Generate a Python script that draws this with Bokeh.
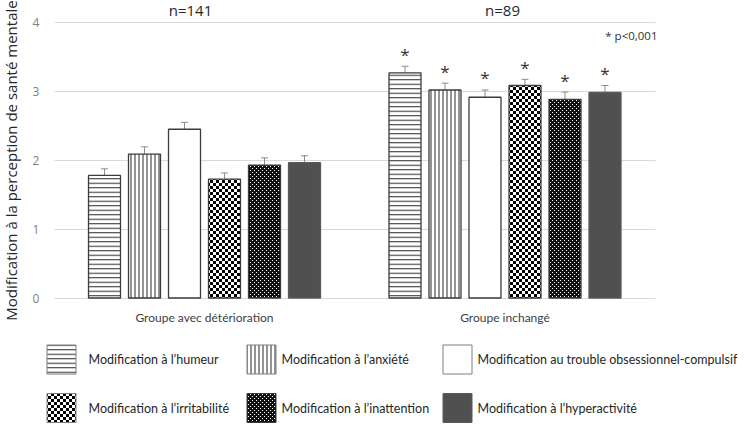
import numpy as np
from bokeh.plotting import figure
from bokeh.models import (Range1d, ColumnDataSource, Whisker, TeeHead, FixedTicker, Grid,
                          CanvasTexture)
from bokeh.core.properties import value
from bokeh.embed import file_html
from bokeh.resources import INLINE

# ---------------- data ----------------
groups = ["Groupe avec détérioration", "Groupe inchangé"]
sample_sizes = ["n=141", "n=89"]
series = [
    "Modification à l\u2019humeur",
    "Modification à l\u2019anxiété",
    "Modification au trouble obsessionnel-compulsif",
    "Modification à l\u2019irritabilité",
    "Modification à l\u2019inattention",
    "Modification à l\u2019hyperactivité",
]
humeur = [1.78, 3.27]
anxiete = [2.09, 3.02]
toc = [2.45, 2.915]
irritabilite = [1.725, 3.085]
inattention = [1.93, 2.885]
hyperactivite = [1.965, 2.985]

humeur_err = [0.095, 0.095]
anxiete_err = [0.105, 0.10]
toc_err = [0.10, 0.105]
irritabilite_err = [0.09, 0.09]
inattention_err = [0.105, 0.105]
hyperactivite_err = [0.10, 0.10]

significant = [False, True]
significance_note = "* p<0,001"
y_ticks = [0, 1, 2, 3, 4]

means = [humeur, anxiete, toc, irritabilite, inattention, hyperactivite]
errors = [humeur_err, anxiete_err, toc_err, irritabilite_err, inattention_err, hyperactivite_err]

# ---------------- styles ----------------
checker_code = """
const c = ctx.canvas;
c.width = 6; c.height = 6;
ctx.setTransform(1, 0, 0, 1, 0, 0);
ctx.fillStyle = "#ffffff";
ctx.fillRect(0, 0, 6, 6);
ctx.fillStyle = "#000000";
ctx.fillRect(0, 0, 3, 3);
ctx.fillRect(3, 3, 3, 3);
"""
grain_code = """
const c = ctx.canvas;
c.width = 4; c.height = 4;
ctx.setTransform(1, 0, 0, 1, 0, 0);
ctx.fillStyle = "#111111";
ctx.fillRect(0, 0, 4, 4);
ctx.fillStyle = "#ffffff";
ctx.fillRect(0, 0, 1, 1);
ctx.fillRect(2, 2, 1, 1);
"""
textures = {"checker": CanvasTexture(code=checker_code),
            "grain": CanvasTexture(code=grain_code)}

OUT = "#3c3c3c"
styles = [
    dict(base="white", pattern="horizontal_line", hatch_color="#3a3a3a", hatch_scale=4.5,
         hatch_weight=1.1, line_color=OUT, texture=None, tex_scale=None),
    dict(base="white", pattern="vertical_line", hatch_color="#3a3a3a", hatch_scale=4.0,
         hatch_weight=1.1, line_color=OUT, texture=None, tex_scale=None),
    dict(base="white", pattern=None, hatch_color="#3a3a3a", hatch_scale=4.0,
         hatch_weight=1.0, line_color=OUT, texture=None, tex_scale=None),
    dict(base="white", pattern="dot", hatch_color="#000000", hatch_scale=4.0,
         hatch_weight=1.0, line_color=OUT, texture="checker", tex_scale=6),
    dict(base="#111111", pattern="dot", hatch_color="#ffffff", hatch_scale=3.5,
         hatch_weight=0.15, line_color=OUT, texture="grain", tex_scale=4),
    dict(base="#505050", pattern=None, hatch_color="#505050", hatch_scale=4.0,
         hatch_weight=1.0, line_color="#5a5a5a", texture=None, tex_scale=None),
]

# ---------------- layout constants ----------------
W, H = 745, 425
px_per_x = 300.5
px_per_y = 68.875
x_range = Range1d(1 - 204 / px_per_x, 2 + (W - 504.5) / px_per_x)
y_range = Range1d(-(H - 297.5) / px_per_y, 4 + 22 / px_per_y)

def dx(px):
    return 1 + (px - 204) / px_per_x

def dy(py):
    return (297.5 - py) / px_per_y

bar_width = 32 / px_per_x
bar_step = 40 / px_per_x
star_gap = 0.175

p = figure(width=W, height=H, x_range=x_range, y_range=y_range,
           output_backend="svg", toolbar_location=None, min_border=0,
           outline_line_color=None, background_fill_color="white",
           border_fill_color="white")

# axes
p.yaxis.fixed_location = 0.5
p.yaxis.ticker = FixedTicker(ticks=y_ticks)
p.yaxis.bounds = (0, 4)
p.yaxis.axis_line_color = None
p.yaxis.major_tick_line_color = None
p.yaxis.minor_tick_line_color = None
p.yaxis.major_tick_out = 0
p.yaxis.major_tick_in = 0
p.yaxis.minor_tick_out = 0
p.yaxis.major_label_standoff = 15
p.yaxis.major_label_text_font = "Open Sans"
p.yaxis.major_label_text_font_size = "12px"
p.yaxis.major_label_text_color = "#7f7f7f"
p.yaxis.axis_label = "Modification à la perception de santé mentale"
p.yaxis.axis_label_text_font = "Open Sans"
p.yaxis.axis_label_text_font_size = "15px"
p.yaxis.axis_label_text_font_style = "normal"
p.yaxis.axis_label_text_color = "#262626"
p.yaxis.axis_label_standoff = 9

centers = np.arange(1, len(groups) + 1)
p.xaxis.fixed_location = 0
p.xaxis.ticker = FixedTicker(ticks=list(centers))
p.xaxis.major_label_overrides = {int(c): g for c, g in zip(centers, groups)}
p.xaxis.axis_line_color = None
p.xaxis.major_tick_line_color = None
p.xaxis.minor_tick_line_color = None
p.xaxis.major_tick_out = 0
p.xaxis.major_tick_in = 0
p.xaxis.minor_tick_out = 0
p.xaxis.major_label_standoff = 12
p.xaxis.major_label_text_font = "Lato"
p.xaxis.major_label_text_font_size = "12px"
p.xaxis.major_label_text_color = "#404040"

# grid
p.xgrid.visible = False
p.ygrid.ticker = FixedTicker(ticks=y_ticks)
p.ygrid.grid_line_color = "#d9d9d9"
p.ygrid.grid_line_width = 1
if "cross_bounds" in Grid.properties():
    p.ygrid.cross_bounds = (0.5, 2.5)
else:
    p.ygrid.visible = False
    p.segment(x0=0.5, x1=2.5, y0=y_ticks, y1=y_ticks, line_color="#d9d9d9", level="underlay")

def hatch_kwargs(st):
    return dict(hatch_pattern=st["pattern"], hatch_color=st["hatch_color"],
                hatch_scale=st["hatch_scale"], hatch_weight=st["hatch_weight"])

# bars
n_series = len(series)
for i, (name, m, e, st) in enumerate(zip(series, means, errors, styles)):
    m = np.array(m, dtype=float)
    e = np.array(e, dtype=float)
    xs = centers + (i - (n_series - 1) / 2) * bar_step
    tex = [st["texture"] or "blank"] * len(m)
    src = ColumnDataSource(dict(x=xs, top=m, upper=m + e, lower=m - e, tex=tex))
    p.vbar(x="x", top="top", bottom=0, width=bar_width, source=src,
           fill_color=st["base"], line_color=None)
    if st["pattern"]:
        p.vbar(x="x", top="top", bottom=0, width=bar_width, source=src,
               fill_color=None, line_color=None, **hatch_kwargs(st))
    if st["texture"]:
        p.vbar(x="x", top="top", bottom=0, width=bar_width, source=src,
               fill_color=None, line_color=None, hatch_pattern="tex",
               hatch_extra=textures, hatch_scale=st["tex_scale"])
    p.vbar(x="x", top="top", bottom=0, width=bar_width, source=src,
           fill_color=None, line_color=st["line_color"], line_width=1.3)
    wh = Whisker(base="x", upper="upper", lower="lower", source=src,
                 line_color="#8c8c8c", line_width=1,
                 upper_head=TeeHead(size=7, line_color="#8c8c8c", line_width=1),
                 lower_head=TeeHead(size=7, line_color="#8c8c8c", line_width=1))
    p.add_layout(wh)
    sig_x = [x for x, s in zip(xs, significant) if s]
    sig_y = [u + star_gap for u, s in zip(m + e, significant) if s]
    p.text(x=sig_x, y=sig_y, text=["*"] * len(sig_x), text_align="center",
           text_baseline="middle", text_font=value("Open Sans"),
           text_font_size="17px", text_color="#333333")

# sample sizes
n_x = [dx(190), dx(502)]
p.text(x=n_x, y=[dy(9.5)] * len(sample_sizes), text=sample_sizes,
       text_align="center", text_baseline="middle", text_font=value("Open Sans"),
       text_font_size="15px", text_color="#262626")

p.text(x=[dx(657)], y=[dy(35)], text=[significance_note], text_align="right",
       text_baseline="middle", text_font=value("Open Sans"), text_font_size="11.5px",
       text_color="#333333")

# legend (manual, 3 columns x 2 rows)
col_px = [46, 246, 442]
text_px = [88, 281, 477]
row_py = [359, 407.5]
for i, (name, st) in enumerate(zip(series, styles)):
    r, c = divmod(i, 3)
    lsrc = ColumnDataSource(dict(x=[dx(col_px[c] + 15)], y=[dy(row_py[r])],
                                 tex=[st["texture"] or "blank"]))
    rect_kw = dict(x="x", y="y", width=29, height=29, width_units="screen",
                   height_units="screen", source=lsrc)
    p.rect(fill_color=st["base"], line_color=None, **rect_kw)
    if st["pattern"]:
        p.rect(fill_color=None, line_color=None, **hatch_kwargs(st), **rect_kw)
    if st["texture"]:
        p.rect(fill_color=None, line_color=None, hatch_pattern="tex",
               hatch_extra=textures, hatch_scale=st["tex_scale"], **rect_kw)
    p.rect(fill_color=None,
           line_color=("#7f7f7f" if st["base"] == "white" else st["line_color"]),
           line_width=1, **rect_kw)
    p.text(x=[dx(text_px[c])], y=[dy(row_py[r])], text=[name], text_align="left",
           text_baseline="middle", text_font=value("Lato"), text_font_size="12.5px",
           text_color="#262626")

open("out.html", "w").write(file_html(p, INLINE))
